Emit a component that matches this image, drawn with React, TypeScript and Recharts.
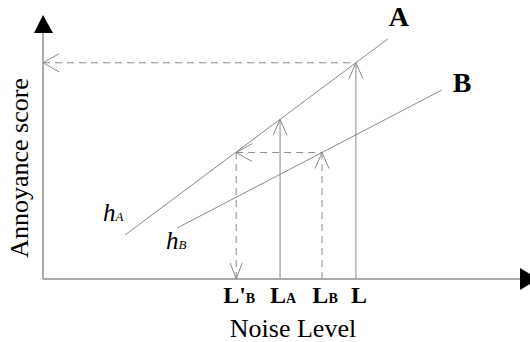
import React from 'react';
import { ComposedChart, Line, Scatter, XAxis, YAxis, ReferenceLine, Label } from 'recharts';

const SERIF = '"Liberation Serif", "Times New Roman", serif';
const GREY = '#8a8a8a';

// response lines (noise level vs annoyance score, arbitrary 0-100 units)
const lineA = [
    { noise: 17.2, score: 17.9 },
    { noise: 72.3, score: 97.6 },
];
const lineB = [
    { noise: 28.1, score: 20.7 },
    { noise: 83.6, score: 76.8 },
];

// marked levels on the noise axis: L'B, LA, LB, L
const levels = [40.5, 49.7, 58.5, 65.6];
const levelMain = ["L'", 'L', 'L', 'L'];
const levelSub = ['B', 'A', 'B', ''];

// scores
const scoreL = 87.9; // A at L
const scoreLA = 64.9; // A at LA
const scoreLB = 51.4; // B at LB (= A at L'B)

const [lbPrime, la, lb, l] = levels;

const arrows = [
    { noise: l, score: scoreL, dir: 'up' },
    { noise: la, score: scoreLA, dir: 'up' },
    { noise: lb, score: scoreLB, dir: 'up' },
    { noise: 0, score: scoreL, dir: 'left' },
    { noise: lbPrime, score: scoreLB, dir: 'left' },
    { noise: lbPrime, score: 0, dir: 'down' },
];

const axisEnds = [
    { noise: 100, score: 0, dir: 'right' },
    { noise: 0, score: 100, dir: 'up' },
];

const openArrow = (props: any) => {
    const { cx, cy, payload } = props;
    let d = '';
    if (payload.dir === 'up') d = `M${cx - 7},${cy + 16} L${cx},${cy} L${cx + 7},${cy + 16}`;
    if (payload.dir === 'down') d = `M${cx - 6},${cy - 16} L${cx},${cy} L${cx + 6},${cy - 16}`;
    if (payload.dir === 'left') d = `M${cx + 16},${cy - 9} L${cx},${cy} L${cx + 16},${cy + 9}`;
    return <path d={d} stroke={GREY} strokeWidth={1} fill="none" />;
};

const solidArrow = (props: any) => {
    const { cx, cy, payload } = props;
    const pts =
        payload.dir === 'up'
            ? `${cx},${cy - 18} ${cx - 9},${cy} ${cx + 10},${cy}`
            : `${cx + 18},${cy} ${cx},${cy - 11} ${cx},${cy + 11}`;
    return <polygon points={pts} fill="#000" />;
};

// name at the top end of a line, h-label at the bottom end
const curveTag = (name: string, hdx: number, hdy: number, ndx: number, ndy: number) => (props: any) => {
    const { cx, cy, index } = props;
    if (index === 0) {
        return (
            <text x={cx + hdx} y={cy + hdy} fontFamily={SERIF} fontStyle="italic" fill="#000">
                <tspan fontSize={25}>h</tspan>
                <tspan fontSize={13}>{name}</tspan>
            </text>
        );
    }
    return (
        <text x={cx + ndx} y={cy + ndy} fontFamily={SERIF} fontWeight="bold" fontSize={28} fill="#000">
            {name}
        </text>
    );
};

const LevelTick = (props: any) => {
    const { x, y, index } = props;
    return (
        <text x={x + 3} y={y} dy={16} textAnchor="middle" fontFamily={SERIF} fontWeight="bold" fill="#000">
            <tspan fontSize={24}>{levelMain[index]}</tspan>
            <tspan fontSize={14}>{levelSub[index]}</tspan>
        </text>
    );
};

export default function App() {
    return (
        <div style={{ position: 'absolute', left: 0, top: 0, background: '#fff' }}>
            <ComposedChart width={530} height={342} margin={{ top: 33, right: 10, bottom: 3, left: 0 }}>
                <XAxis
                    type="number"
                    dataKey="noise"
                    domain={[0, 100]}
                    ticks={levels}
                    interval={0}
                    tick={<LevelTick />}
                    tickLine={false}
                    height={60}
                    axisLine={{ stroke: '#aaa', strokeWidth: 2 }}
                >
                    <Label
                        content={({ viewBox }: any) => (
                            <text x={viewBox.x + 250} y={viewBox.y + 58} textAnchor="middle" fontFamily={SERIF} fontSize={26} fill="#000">
                                Noise Level
                            </text>
                        )}
                    />
                </XAxis>
                <YAxis
                    type="number"
                    dataKey="score"
                    domain={[0, 100]}
                    tick={false}
                    tickLine={false}
                    width={43}
                    axisLine={{ stroke: '#aaa', strokeWidth: 2 }}
                >
                    <Label
                        content={({ viewBox }: any) => {
                            const cx = viewBox.x + 28;
                            const cy = viewBox.y + 135;
                            return (
                                <text x={cx} y={cy} transform={`rotate(-90, ${cx}, ${cy})`} textAnchor="middle" fontFamily={SERIF} fontSize={26} fill="#000">
                                    Annoyance score
                                </text>
                            );
                        }}
                    />
                </YAxis>

                {/* guide lines */}
                <ReferenceLine segment={[{ x: 0, y: scoreL }, { x: l, y: scoreL }]} stroke={GREY} strokeDasharray="7 5" />
                <ReferenceLine segment={[{ x: l, y: 0 }, { x: l, y: scoreL }]} stroke={GREY} />
                <ReferenceLine segment={[{ x: la, y: 0 }, { x: la, y: scoreLA }]} stroke={GREY} />
                <ReferenceLine segment={[{ x: lb, y: 0 }, { x: lb, y: scoreLB }]} stroke={GREY} strokeDasharray="7 5" />
                <ReferenceLine segment={[{ x: lbPrime, y: scoreLB }, { x: lb, y: scoreLB }]} stroke={GREY} strokeDasharray="7 5" />
                <ReferenceLine segment={[{ x: lbPrime, y: 0 }, { x: lbPrime, y: scoreLB }]} stroke={GREY} strokeDasharray="7 5" />

                <Line data={lineA} dataKey="score" stroke={GREY} strokeWidth={1} dot={false} isAnimationActive={false} />
                <Line data={lineB} dataKey="score" stroke={GREY} strokeWidth={1} dot={false} isAnimationActive={false} />

                <Scatter data={lineA} dataKey="score" shape={curveTag('A', -22, -14, 1, -13)} isAnimationActive={false} />
                <Scatter data={lineB} dataKey="score" shape={curveTag('B', -11, 21, 11, 2)} isAnimationActive={false} />

                <Scatter data={arrows} dataKey="score" shape={openArrow} isAnimationActive={false} />
                <Scatter data={axisEnds} dataKey="score" shape={solidArrow} isAnimationActive={false} />
            </ComposedChart>
        </div>
    );
}
